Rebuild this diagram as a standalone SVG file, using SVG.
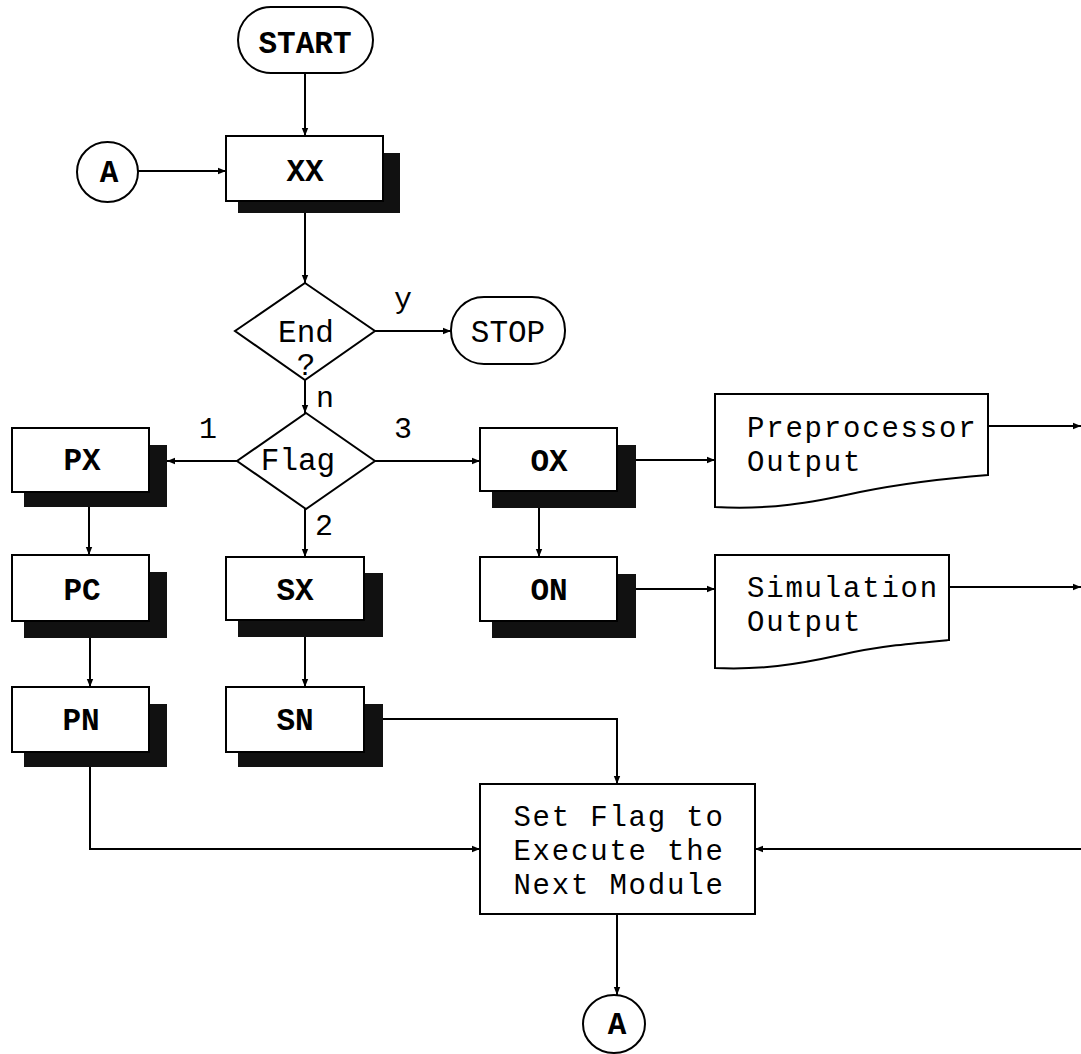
<svg xmlns="http://www.w3.org/2000/svg" width="1081" height="1054" viewBox="0 0 1081 1054">
<style>
  .box { fill: #fff; stroke: #000; stroke-width: 2; }
  .shadow { fill: #111; stroke: none; }
  .line { fill: none; stroke: #000; stroke-width: 2; }
  .t { font-family: "Liberation Mono", "DejaVu Sans Mono", monospace; font-size: 31px; fill: #000; text-anchor: middle; }
  .b { font-weight: bold; }
  .doc { font-family: "Liberation Mono", "DejaVu Sans Mono", monospace; font-size: 29px; letter-spacing: 1.8px; fill: #000; }
  .lbl { font-family: "Liberation Mono", "DejaVu Sans Mono", monospace; font-size: 30px; fill: #000; text-anchor: middle; }
</style>
<defs>
  <marker id="ah" viewBox="0 0 10 10" refX="10" refY="5" markerWidth="11" markerHeight="8" markerUnits="userSpaceOnUse" orient="auto">
    <path d="M0,1 L10,5 L0,9 z" fill="#000"/>
  </marker>
</defs>
<rect width="1081" height="1054" fill="#fff"/>

<g id="connectors">
  <line class="line" x1="305" y1="73" x2="305" y2="136" marker-end="url(#ah)"/>
  <line class="line" x1="138" y1="171" x2="226" y2="171" marker-end="url(#ah)"/>
  <line class="line" x1="305" y1="213" x2="305" y2="283" marker-end="url(#ah)"/>
  <line class="line" x1="375" y1="331" x2="451" y2="331" marker-end="url(#ah)"/>
  <line class="line" x1="305" y1="380" x2="305" y2="413" marker-end="url(#ah)"/>
  <line class="line" x1="237" y1="461" x2="167" y2="461" marker-end="url(#ah)"/>
  <line class="line" x1="375" y1="461" x2="480" y2="461" marker-end="url(#ah)"/>
  <line class="line" x1="305" y1="509" x2="305" y2="557" marker-end="url(#ah)"/>
  <line class="line" x1="89" y1="507" x2="89" y2="555" marker-end="url(#ah)"/>
  <line class="line" x1="90" y1="638" x2="90" y2="687" marker-end="url(#ah)"/>
  <line class="line" x1="305" y1="637" x2="305" y2="687" marker-end="url(#ah)"/>
  <line class="line" x1="539" y1="508" x2="539" y2="557" marker-end="url(#ah)"/>
  <line class="line" x1="636" y1="460" x2="715" y2="460" marker-end="url(#ah)"/>
  <line class="line" x1="636" y1="589" x2="715" y2="589" marker-end="url(#ah)"/>
  <line class="line" x1="988" y1="426" x2="1081" y2="426" marker-end="url(#ah)"/>
  <line class="line" x1="949" y1="587" x2="1081" y2="587" marker-end="url(#ah)"/>
  <line class="line" x1="1081" y1="849" x2="755" y2="849" marker-end="url(#ah)"/>
  <polyline class="line" points="90,767 90,849 480,849" marker-end="url(#ah)"/>
  <polyline class="line" points="383,719 617,719 617,784" marker-end="url(#ah)"/>
  <line class="line" x1="617" y1="914" x2="617" y2="995" marker-end="url(#ah)"/>
</g>

<g id="start">
  <rect class="box" x="238" y="7" width="135" height="66" rx="33" ry="33"/>
  <text class="t b" x="305" y="53">START</text>
</g>

<g id="connA-top">
  <ellipse class="box" cx="107.5" cy="172" rx="30.5" ry="30"/>
  <text class="t b" x="109" y="182">A</text>
</g>

<g id="xx">
  <rect class="shadow" x="238" y="153" width="162" height="60"/>
  <rect class="box" x="226" y="136" width="157" height="65"/>
  <text class="t b" x="305" y="181">XX</text>
</g>

<g id="end">
  <polygon class="box" points="305,283 375,331 305,380 235,331"/>
  <text class="t" x="306" y="342">End</text>
  <text class="t" x="306" y="375">?</text>
</g>

<g id="stop">
  <rect class="box" x="451" y="297" width="114" height="67" rx="33" ry="33"/>
  <text class="t" x="508" y="342">STOP</text>
</g>

<g id="flag">
  <polygon class="box" points="306,413 375,461 306,509 237,461"/>
  <text class="t" x="298" y="470">Flag</text>
</g>

<g id="labels">
  <text class="lbl" x="403" y="308">y</text>
  <text class="lbl" x="325" y="407">n</text>
  <text class="lbl" x="403" y="438">3</text>
  <text class="lbl" x="208" y="438">1</text>
  <text class="lbl" x="324" y="535">2</text>
</g>

<g id="px">
  <rect class="shadow" x="24" y="445" width="143" height="62"/>
  <rect class="box" x="12" y="428" width="137" height="64"/>
  <text class="t b" x="82" y="470">PX</text>
</g>

<g id="pc">
  <rect class="shadow" x="24" y="572" width="143" height="66"/>
  <rect class="box" x="12" y="555" width="137" height="66"/>
  <text class="t b" x="82" y="600">PC</text>
</g>

<g id="pn">
  <rect class="shadow" x="24" y="704" width="143" height="63"/>
  <rect class="box" x="12" y="687" width="137" height="65"/>
  <text class="t b" x="81" y="730">PN</text>
</g>

<g id="sx">
  <rect class="shadow" x="238" y="573" width="145" height="64"/>
  <rect class="box" x="226" y="557" width="138" height="63"/>
  <text class="t b" x="295" y="600">SX</text>
</g>

<g id="sn">
  <rect class="shadow" x="238" y="704" width="145" height="63"/>
  <rect class="box" x="226" y="687" width="138" height="65"/>
  <text class="t b" x="295" y="730">SN</text>
</g>

<g id="ox">
  <rect class="shadow" x="492" y="445" width="144" height="63"/>
  <rect class="box" x="480" y="428" width="137" height="63"/>
  <text class="t b" x="549" y="471">OX</text>
</g>

<g id="on">
  <rect class="shadow" x="492" y="574" width="144" height="64"/>
  <rect class="box" x="480" y="557" width="137" height="64"/>
  <text class="t b" x="549" y="600">ON</text>
</g>

<g id="preprocessor-output">
  <path class="box" d="M715,394 L988,394 L988,475 C950,478 910,482 860,492 C810,503 770,510 715,507 Z"/>
  <text class="doc" x="747" y="437">Preprocessor</text>
  <text class="doc" x="747" y="471">Output</text>
</g>

<g id="simulation-output">
  <path class="box" d="M715,555 L949,555 L949,640 C915,643 880,646 840,655 C795,665 760,670 715,668 Z"/>
  <text class="doc" x="747" y="597">Simulation</text>
  <text class="doc" x="747" y="631">Output</text>
</g>

<g id="set-flag">
  <rect class="box" x="480" y="784" width="275" height="130"/>
  <text class="doc" x="619" y="826" text-anchor="middle">Set Flag to</text>
  <text class="doc" x="619" y="860" text-anchor="middle">Execute the</text>
  <text class="doc" x="619" y="894" text-anchor="middle">Next Module</text>
</g>

<g id="connA-bottom">
  <ellipse class="box" cx="614" cy="1024" rx="31" ry="29"/>
  <text class="t b" x="617" y="1034">A</text>
</g>
</svg>
